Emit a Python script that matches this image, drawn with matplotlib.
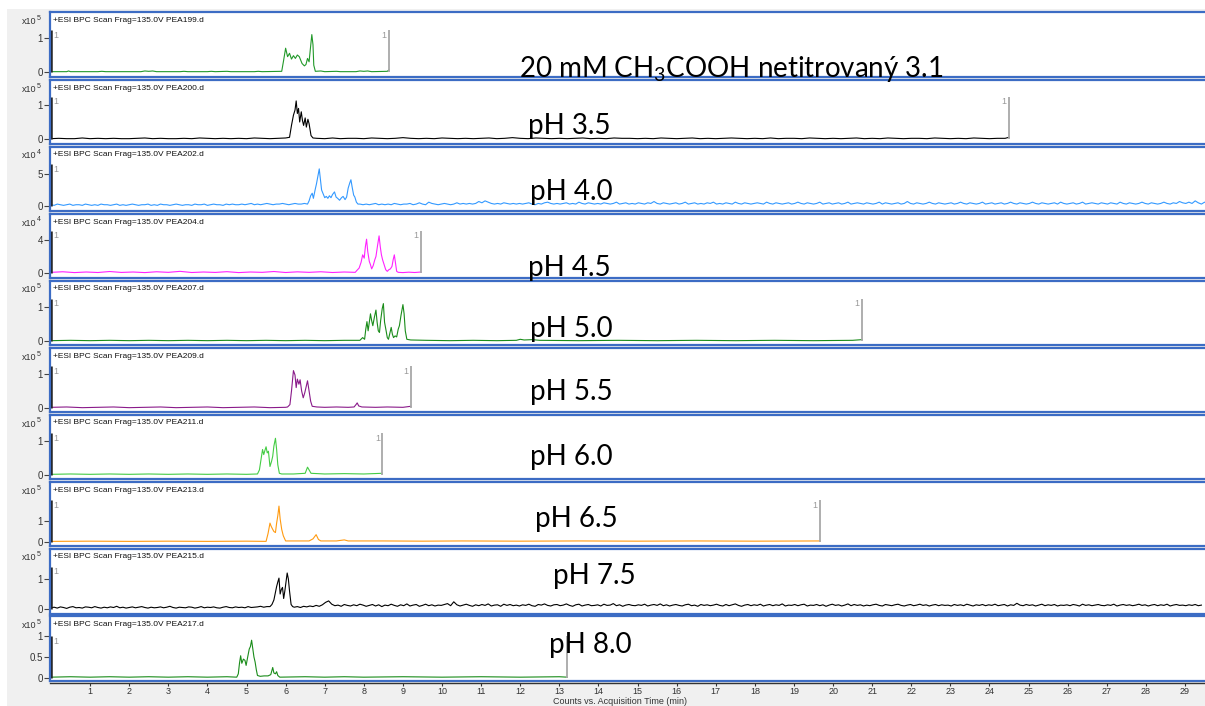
import numpy as np
import matplotlib
matplotlib.use("Agg")
import matplotlib.pyplot as plt
from matplotlib.patches import Rectangle

plt.rcParams['mathtext.fontset'] = 'custom'
plt.rcParams['mathtext.rm'] = 'Lato'
plt.rcParams['mathtext.it'] = 'Lato:italic'
plt.rcParams['mathtext.bf'] = 'Lato:bold'

# ------------------------------------------------------------------ data
file_names = ["PEA199.d", "PEA200.d", "PEA202.d", "PEA204.d", "PEA207.d",
              "PEA209.d", "PEA211.d", "PEA213.d", "PEA215.d", "PEA217.d"]
ph_labels = ["20 mM CH$_3$COOH netitrovaný 3.1", "pH 3.5", "pH 4.0", "pH 4.5",
             "pH 5.0", "pH 5.5", "pH 6.0", "pH 6.5", "pH 7.5", "pH 8.0"]
exponents = [5, 5, 4, 4, 5, 5, 5, 5, 5, 5]
y_ticks = [[0, 1], [0, 1], [0, 5], [0, 4], [0, 1], [0, 1], [0, 1], [0, 1], [0, 1], [0, 0.5, 1]]
y_ticklabels = [["0", "1"], ["0", "1"], ["0", "5"], ["0", "4"], ["0", "1"], ["0", "1"],
                ["0", "1"], ["0", "1"], ["0", "1"], ["0", "0.5", "1"]]
end_times = [8.64, 24.5, None, 9.46, 20.74, 9.2, 8.47, 19.67, None, 13.2]
end_label_shown = [True, True, False, True, True, True, True, True, False, False]
x_ticks = list(range(1, 30))
x_label = "Counts vs. Acquisition Time (min)"
noise_step = 0.08

# PEA199 (x10^5)
trace_199 = [(0.0, 0.01), (0.4, 0.01), (0.45, 0.03), (0.5, 0.01), (1.2, 0.01), (1.3, 0.02),
             (1.4, 0.01), (2.3, 0.01), (2.4, 0.03), (2.5, 0.02), (2.6, 0.03), (2.7, 0.01),
             (3.3, 0.01), (3.4, 0.02), (3.5, 0.01), (4.0, 0.01), (4.1, 0.02), (4.2, 0.01),
             (4.5, 0.02), (4.6, 0.01), (5.2, 0.01), (5.3, 0.02), (5.4, 0.01), (5.9, 0.02),
             (5.95, 0.35), (6.0, 0.70), (6.05, 0.45), (6.1, 0.55), (6.15, 0.38), (6.2, 0.48),
             (6.25, 0.40), (6.3, 0.50), (6.35, 0.45), (6.42, 0.25), (6.48, 0.18), (6.52, 0.22),
             (6.56, 0.40), (6.6, 0.30), (6.63, 0.65), (6.67, 1.10), (6.70, 0.80), (6.72, 0.20),
             (6.76, 0.02), (6.9, 0.03), (7.0, 0.01), (7.3, 0.02), (7.4, 0.01), (7.8, 0.01),
             (7.9, 0.03), (8.0, 0.02), (8.1, 0.03), (8.2, 0.01), (8.6, 0.02), (8.64, 0.06)]

# PEA200 (x10^5) : baseline noise in 0.01 units, step 0.2 min
pre_200 = [1, 2, 1, 1, 3, 1, 2, 1, 2, 1, 1, 2, 3, 1, 2, 1, 1, 2, 1, 3, 2, 1, 2, 1, 2, 1, 3, 2, 1, 2, 3]
peak_200 = [(6.1, 0.05), (6.15, 0.40), (6.2, 0.70), (6.24, 0.85), (6.27, 1.12), (6.30, 0.75),
            (6.33, 0.90), (6.36, 0.50), (6.40, 0.80), (6.43, 0.55), (6.46, 0.40), (6.50, 0.62),
            (6.53, 0.35), (6.57, 0.58), (6.60, 0.45), (6.65, 0.10), (6.70, 0.03)]
post_200 = [2, 1, 3, 1, 2, 2, 1, 3, 2, 1, 2, 4, 2, 1, 2, 1, 3, 2, 1, 2, 1, 2, 3, 1, 2, 4, 2, 1, 3, 2,
            1, 2, 1, 2, 3, 1, 2, 1, 3, 2, 2, 1, 2, 1, 3, 2, 1, 2, 3, 1, 2, 1, 2, 3, 2, 1, 2, 1, 3, 1,
            2, 2, 1, 3, 2, 1, 2, 1, 2, 3, 1, 2, 1, 3, 2, 1, 2, 2, 1, 3, 2, 1, 2, 1, 3, 2, 1, 2, 2]
tail_200 = [(24.5, 0.05)]

# PEA202 (x10^4) : noise in 0.1 units
pre_202 = [2, 1, 3, 2, 1, 2, 3, 1, 2, 2, 1, 3, 2, 1, 2, 1, 3, 2, 2, 1, 2, 3, 1, 2, 1, 2, 3, 2, 1, 2,
           2, 3, 1, 2, 1, 3, 2, 2, 1, 2, 3, 2, 1, 2, 2, 1, 3, 2, 2, 3, 1, 2, 3, 2, 2, 1, 3, 2, 3, 2,
           2, 3, 2, 3, 4, 2, 3, 2, 3, 4, 3, 2, 3, 3, 4, 3, 2, 3, 4, 3, 3, 4]
peak_202 = [(6.56, 0.3), (6.6, 0.8), (6.64, 1.6), (6.68, 2.0), (6.71, 1.2), (6.75, 2.4), (6.79, 3.5),
            (6.83, 4.8), (6.86, 5.8), (6.89, 4.2), (6.92, 2.5), (6.96, 1.9), (7.0, 1.3), (7.04, 1.5),
            (7.08, 1.2), (7.12, 1.6), (7.16, 1.3), (7.2, 1.8), (7.25, 2.2), (7.29, 1.4), (7.33, 1.2),
            (7.38, 0.9), (7.43, 1.3), (7.47, 1.5), (7.52, 1.0), (7.56, 1.4), (7.6, 2.8), (7.64, 3.6),
            (7.67, 4.1), (7.7, 3.0), (7.74, 1.7), (7.77, 1.4), (7.81, 0.6), (7.85, 0.3)]
post_202 = [3, 2, 3, 2, 3, 4, 2, 3, 2, 3, 2, 4, 3, 2, 3,
            3, 4, 2, 3, 5, 3, 2, 6, 4, 3, 2, 3,
            4, 3, 2, 3, 5, 3, 4, 3, 4, 3, 4, 7, 5,
            8, 6, 4, 3, 4, 3, 5, 4, 3, 4, 3, 4,
            3, 4, 5, 3, 2, 4, 3, 5, 6, 4, 3, 4, 3,
            4, 5, 3, 4, 3, 6, 4, 3, 5, 4, 3, 4,
            3, 5, 4, 3, 4, 6, 3, 4, 5, 3, 4, 3, 5,
            4, 3, 5, 4, 7, 4, 3, 5, 4, 3, 4, 5,
            3, 4, 6, 3, 4, 5, 3, 4, 3, 5, 4, 6, 3,
            4, 3, 5, 4, 3, 6, 4, 3, 5, 4, 3, 4,
            5, 4, 3, 6, 4, 3, 5, 4, 3, 4, 5, 3, 4,
            6, 4, 3, 5, 4, 3, 4, 6, 3, 4, 5, 3,
            4, 5, 3, 4, 6, 3, 4, 5, 4, 3, 5, 4, 3,
            4, 6, 3, 5, 4, 3, 4, 5, 3, 4, 7, 4,
            3, 5, 4, 3, 4, 6, 4, 3, 5, 4, 3, 4, 5,
            3, 4, 6, 4, 3, 5, 4, 3, 4, 6, 3, 4,
            5, 3, 4, 5, 3, 4, 6, 4, 3, 5, 4, 3, 4,
            6, 4, 3, 5, 4, 3, 4, 5, 3, 6, 4, 3,
            4, 5, 3, 4, 6, 3, 4, 5, 4, 3, 5, 4, 3,
            5, 4, 3, 6, 4, 3, 5, 4, 3, 4, 6, 4,
            3, 5, 4, 3, 4, 6, 4, 3, 5, 4, 7, 5, 4,
            6, 4, 8, 5, 3, 6, 4]

# PEA204 (x10^4)
trace_204 = [(0.0, 0.08), (0.3, 0.15), (0.6, 0.05), (0.9, 0.12), (1.2, 0.06), (1.5, 0.18), (1.8, 0.07),
             (2.1, 0.12), (2.4, 0.05), (2.7, 0.15), (3.0, 0.08), (3.3, 0.2), (3.6, 0.06), (3.9, 0.12),
             (4.2, 0.07), (4.5, 0.16), (4.8, 0.05), (5.1, 0.12), (5.4, 0.08), (5.7, 0.18), (6.0, 0.06),
             (6.3, 0.14), (6.6, 0.08), (6.9, 0.15), (7.2, 0.06), (7.5, 0.12), (7.78, 0.08),
             (7.82, 0.3), (7.88, 0.6), (7.93, 1.3), (7.97, 2.2), (8.01, 1.8), (8.04, 3.2), (8.07, 4.1),
             (8.1, 2.6), (8.14, 1.4), (8.17, 1.0), (8.2, 0.5), (8.24, 0.9), (8.28, 1.6), (8.31, 2.0),
             (8.35, 3.3), (8.39, 4.5), (8.42, 3.2), (8.45, 2.2), (8.48, 1.6), (8.52, 1.0), (8.56, 0.4),
             (8.6, 0.2), (8.64, 0.4), (8.68, 0.5), (8.72, 0.8), (8.75, 1.6), (8.78, 2.2), (8.81, 1.2),
             (8.84, 0.2), (8.88, 0.08), (9.0, 0.05), (9.15, 0.1), (9.3, 0.06), (9.46, 0.12)]

# PEA207 (x10^5)
trace_207 = [(0.0, 0.01), (0.5, 0.02), (1.0, 0.01), (1.5, 0.02), (2.0, 0.01), (2.5, 0.02), (3.0, 0.01),
             (3.5, 0.02), (4.0, 0.01), (4.5, 0.02), (5.0, 0.01), (5.5, 0.02), (6.0, 0.01), (6.5, 0.02),
             (7.0, 0.01), (7.5, 0.02), (7.9, 0.02), (7.97, 0.10), (8.02, 0.05), (8.05, 0.35),
             (8.08, 0.57), (8.11, 0.30), (8.14, 0.55), (8.17, 0.80), (8.2, 0.60), (8.23, 0.45),
             (8.27, 0.70), (8.31, 0.91), (8.34, 0.55), (8.37, 0.30), (8.4, 0.25), (8.43, 0.60),
             (8.47, 0.95), (8.5, 1.10), (8.53, 0.55), (8.57, 0.30), (8.6, 0.10), (8.63, 0.05),
             (8.67, 0.25), (8.7, 0.40), (8.73, 0.20), (8.76, 0.10), (8.8, 0.15), (8.84, 0.12),
             (8.88, 0.35), (8.91, 0.45), (8.95, 0.75), (9.0, 1.07), (9.03, 0.80), (9.06, 0.30),
             (9.1, 0.05), (9.2, 0.03), (9.6, 0.02), (10.2, 0.01), (10.8, 0.02), (11.4, 0.01),
             (11.9, 0.02), (12.0, 0.05), (12.1, 0.03), (12.3, 0.04), (12.5, 0.02), (13.5, 0.01),
             (14.5, 0.02), (15.5, 0.01), (16.5, 0.02), (17.5, 0.01), (18.5, 0.02), (19.5, 0.01),
             (20.5, 0.02), (20.74, 0.04)]

# PEA209 (x10^5)
trace_209 = [(0.0, 0.02), (0.4, 0.03), (0.8, 0.01), (1.2, 0.02), (1.6, 0.03), (2.0, 0.01), (2.4, 0.02),
             (2.8, 0.03), (3.2, 0.01), (3.6, 0.02), (4.0, 0.03), (4.4, 0.01), (4.8, 0.02), (5.2, 0.03),
             (5.6, 0.01), (6.0, 0.02), (6.05, 0.03), (6.11, 0.10), (6.15, 0.50), (6.2, 1.10),
             (6.24, 0.97), (6.27, 0.60), (6.3, 0.85), (6.34, 0.70), (6.37, 0.83), (6.41, 0.50),
             (6.45, 0.30), (6.49, 0.45), (6.53, 0.65), (6.56, 0.80), (6.6, 0.50), (6.64, 0.20),
             (6.68, 0.05), (6.8, 0.03), (7.0, 0.02), (7.3, 0.03), (7.6, 0.02), (7.75, 0.03),
             (7.8, 0.10), (7.83, 0.15), (7.87, 0.06), (7.95, 0.03), (8.3, 0.02), (8.6, 0.03),
             (9.0, 0.02), (9.2, 0.05)]

# PEA211 (x10^5)
trace_211 = [(0.0, 0.02), (0.5, 0.03), (1.0, 0.02), (1.5, 0.03), (2.0, 0.02), (2.5, 0.03), (3.0, 0.02),
             (3.5, 0.03), (4.0, 0.02), (4.5, 0.03), (5.0, 0.02), (5.28, 0.03), (5.33, 0.15),
             (5.37, 0.45), (5.41, 0.75), (5.44, 0.60), (5.47, 0.72), (5.5, 0.83), (5.53, 0.65),
             (5.56, 0.70), (5.6, 0.25), (5.64, 0.40), (5.67, 0.55), (5.7, 0.85), (5.74, 1.08),
             (5.77, 0.75), (5.8, 0.30), (5.84, 0.05), (5.9, 0.03), (6.2, 0.03), (6.5, 0.05),
             (6.56, 0.23), (6.6, 0.15), (6.65, 0.05), (7.0, 0.03), (7.5, 0.04), (8.0, 0.03),
             (8.47, 0.05)]

# PEA213 (x10^5)
trace_213 = [(0.0, 0.03), (1.0, 0.04), (2.0, 0.03), (3.0, 0.04), (4.0, 0.03), (5.0, 0.04), (5.5, 0.03),
             (5.55, 0.40), (5.6, 0.90), (5.63, 0.75), (5.67, 0.60), (5.7, 0.50), (5.74, 0.45),
             (5.77, 0.90), (5.8, 1.25), (5.83, 1.71), (5.86, 1.10), (5.9, 0.60), (5.94, 0.30),
             (6.0, 0.05), (6.3, 0.05), (6.6, 0.05), (6.7, 0.15), (6.78, 0.35), (6.84, 0.12),
             (6.9, 0.05), (7.3, 0.05), (7.5, 0.10), (7.6, 0.05), (8.5, 0.05), (9.5, 0.04),
             (10.5, 0.05), (12.0, 0.04), (13.5, 0.05), (15.0, 0.04), (16.5, 0.05), (18.0, 0.04),
             (19.67, 0.05)]

# PEA215 (x10^5) : noise in 0.01 units
pre_215 = [4, 6, 3, 7, 5, 2, 6, 8, 4, 5, 3, 7, 6, 4, 8, 5, 3, 6, 4, 7, 5, 9, 4, 6, 3, 5, 7, 4, 6, 8,
           5, 3, 6, 4, 5, 7, 4, 6, 9, 5, 3, 6, 5, 4, 7, 6, 3, 5, 8, 4, 6, 5, 7, 4, 3, 6, 8, 5, 4, 7,
           5, 6, 4, 8, 5, 6, 7, 9, 6, 8]
peak_215 = [(5.6, 0.08), (5.65, 0.15), (5.7, 0.30), (5.74, 0.55), (5.77, 0.75), (5.8, 0.90),
            (5.83, 1.03), (5.86, 0.50), (5.89, 0.65), (5.92, 0.72), (5.95, 0.35), (5.98, 0.60),
            (6.01, 0.90), (6.04, 1.20), (6.07, 1.00), (6.1, 0.60), (6.14, 0.15), (6.18, 0.08)]
post_215 = [6, 8, 5, 9, 7, 10, 8, 12, 9, 14,
            22, 27, 16, 11, 13, 9, 15, 12, 10, 14, 11, 16,
            13, 9, 12, 15, 10, 14, 8, 13, 11, 16, 12, 9,
            14, 11, 17, 10, 13, 15, 9, 12, 16, 11, 14, 10, 13,
            12, 15, 18, 11, 24, 14, 10, 13, 16, 12, 9, 14,
            11, 15, 12, 17, 10, 13, 14, 9, 16, 12, 15, 11, 13,
            10, 14, 12, 16, 11, 9, 15, 13, 17, 12, 10, 14,
            15, 11, 13, 17, 12, 9, 14, 16, 10, 13, 15, 11, 12,
            14, 10, 16, 12, 13, 18, 11, 14, 9, 13, 15, 12,
            11, 14, 12, 16, 10, 13, 15, 12, 17, 11, 14, 10, 13,
            15, 12, 10, 14, 16, 11, 13, 9, 15, 12, 14, 11,
            13, 16, 12, 10, 15, 11, 14, 17, 12, 9, 13, 15, 11,
            14, 12, 16, 10, 13, 15, 11, 14, 12, 17, 10, 13,
            12, 15, 11, 14, 16, 10, 13, 12, 15, 11, 14, 9, 13,
            16, 12, 14, 10, 13, 17, 11, 15, 12, 14, 10, 13,
            11, 14, 16, 12, 10, 15, 13, 11, 14, 16, 12, 10, 13,
            15, 11, 13, 16, 12, 14, 10, 13, 15, 11, 14, 12,
            13, 10, 15, 12, 14, 11, 16, 13, 10, 14, 12, 15, 11,
            14, 12, 16, 11, 13, 15, 10, 14, 12, 19, 13, 11,
            15, 12, 14, 10, 13, 16, 11, 14, 12, 15, 10, 13, 12,
            14, 11, 15, 13, 10, 16, 12, 14, 11, 13, 15, 12,
            11, 14, 12, 16, 10, 13, 15, 12, 14, 11, 13, 16, 12,
            14, 10, 13, 15, 11, 14, 12, 16, 10, 13, 15, 12,
            13, 11, 14, 12, 15, 11, 13]

# PEA217 (x10^5)
trace_217 = [(0.0, 0.02), (0.5, 0.03), (1.0, 0.02), (1.5, 0.03), (2.0, 0.02), (2.5, 0.03), (3.0, 0.02),
             (3.5, 0.03), (4.0, 0.02), (4.5, 0.03), (4.75, 0.02), (4.79, 0.10), (4.82, 0.35),
             (4.85, 0.53), (4.88, 0.35), (4.92, 0.45), (4.96, 0.42), (4.99, 0.30), (5.03, 0.50),
             (5.07, 0.69), (5.1, 0.75), (5.13, 0.90), (5.16, 0.70), (5.19, 0.50), (5.22, 0.38),
             (5.25, 0.20), (5.28, 0.06), (5.35, 0.04), (5.45, 0.05), (5.55, 0.05), (5.62, 0.08),
             (5.67, 0.25), (5.7, 0.12), (5.74, 0.10), (5.77, 0.15), (5.8, 0.06), (5.85, 0.02),
             (6.5, 0.03), (7.0, 0.02), (7.5, 0.03), (8.0, 0.02), (9.0, 0.03), (10.0, 0.02),
             (11.0, 0.03), (12.0, 0.02), (13.0, 0.03), (13.2, 0.02)]

colors = ["#22992a", "#000000", "#3399ff", "#ff22ff", "#1a8c1a",
          "#8a1a8a", "#44cc44", "#ff9a10", "#000000", "#1a8c1a"]


def noise_pairs(start, step, values, unit):
    return [(start + i * step, v * unit) for i, v in enumerate(values)]


series = [
    trace_199,
    noise_pairs(0.0, 0.2, pre_200, 0.01) + peak_200 + noise_pairs(6.8, 0.2, post_200, 0.01) + tail_200,
    noise_pairs(0.0, noise_step, pre_202, 0.1) + peak_202 + noise_pairs(7.9, noise_step, post_202, 0.1),
    trace_204,
    trace_207,
    trace_209,
    trace_211,
    trace_213,
    noise_pairs(0.0, noise_step, pre_215, 0.01) + peak_215 + noise_pairs(6.22, noise_step, post_215, 0.01),
    trace_217,
]

# ------------------------------------------------------------------ layout (pixels)
W, H = 1205, 706
tops = [12, 80, 147, 214, 281, 348, 415, 482, 549, 616]
bots = [77, 144, 211, 278, 345, 412, 479, 546, 613.5, 681]
zeros = [72, 139, 206, 273, 341, 408, 475, 542, 609, 678]
pxu = [34, 34, 6.4, 8.25, 34, 34, 34, 21, 30, 42]
label_pos = [(519, 77), (528, 134), (530, 200), (528, 276), (530, 337),
             (530, 400), (530, 465), (535, 527), (553, 584), (549, 653)]
AX_L = 50
AX_R = 1205
T0_PX = 51
PX_PER_MIN = (1185 - 51) / 29.0
XLIM = ((AX_L - T0_PX) / PX_PER_MIN, (AX_R - T0_PX) / PX_PER_MIN)


def fx(px):
    return px / W


def fy(py):
    return 1 - py / H


fig = plt.figure(figsize=(W / 100, H / 100), dpi=100)
fig.patch.set_facecolor("#f0f0f0")
fig.add_artist(Rectangle((0, fy(9)), 1, 1 - fy(9), transform=fig.transFigure,
                         facecolor="white", edgecolor="none", zorder=-5))
fig.add_artist(Rectangle((0, 0), fx(7), 1, transform=fig.transFigure,
                         facecolor="white", edgecolor="none", zorder=-5))

small = dict(family="Liberation Sans")
blue = "#3c6cc4"

for i in range(10):
    top, bot, z, s = tops[i], bots[i], zeros[i], pxu[i]
    ax = fig.add_axes([fx(AX_L), fy(bot), fx(AX_R) - fx(AX_L), (bot - top) / H])
    ax.set_facecolor("white")
    t, y = zip(*series[i])
    t = np.array(t)
    y = np.array(y)
    if end_times[i] is not None:
        keep = t <= end_times[i] + 1e-9
        t, y = t[keep], y[keep]
    ax.plot(t, y, color=colors[i], lw=0.8, solid_joinstyle="round")
    ax.set_xlim(*XLIM)
    ax.set_ylim((z - bot) / s, (z - top) / s)
    # segment markers
    mh = 42.0 / s
    ax.vlines(0, 0, mh, color="#202020", lw=1.8)
    ax.text(0.07, 37.0 / s, "1", color="#999999", fontsize=6.5, va="center", ha="left", **small)
    if end_times[i] is not None:
        ax.vlines(end_times[i], 0, mh, color="#a8a8a8", lw=1.3)
        if end_label_shown[i]:
            ax.text(end_times[i] - 0.06, 37.0 / s, "1", color="#999999", fontsize=6.5,
                    va="center", ha="right", **small)
    ax.set_xticks([])
    ax.set_yticks(y_ticks[i])
    ax.set_yticklabels(y_ticklabels[i], fontsize=7, color="#333333", **small)
    ax.tick_params(axis="y", direction="out", length=4, width=0.8, color="#444444", pad=1)
    for sp in ax.spines.values():
        sp.set_color(blue)
        sp.set_linewidth(1.6)
    ax.spines["right"].set_visible(False)
    # header texts
    fig.text(fx(53), fy(top + 8), "+ESI BPC Scan Frag=135.0V " + file_names[i],
             fontsize=6, va="center", ha="left", color="#111111", **small)
    fig.text(fx(22), fy(top + 9), "x10", fontsize=6.5, va="center", ha="left", color="#333333", **small)
    fig.text(fx(37), fy(top + 6), str(exponents[i]), fontsize=5, va="center", ha="left",
             color="#333333", **small)

# x axis
axx = fig.add_axes([fx(AX_L), fy(683), fx(AX_R) - fx(AX_L), 0.0001])
axx.set_facecolor("none")
axx.set_xlim(*XLIM)
axx.set_yticks([])
for k in ["top", "left", "right"]:
    axx.spines[k].set_visible(False)
axx.spines["bottom"].set_color("#333333")
axx.spines["bottom"].set_linewidth(1.0)
axx.set_xticks(x_ticks)
axx.set_xticklabels([str(v) for v in x_ticks], fontsize=6.5, color="#333333", **small)
axx.tick_params(axis="x", direction="out", length=2.5, width=0.8, pad=0.5, color="#333333")
fig.text(fx(620), fy(701), x_label, fontsize=6.5, ha="center", va="center", color="#333333", **small)

# big annotation labels
for i in range(10):
    lx, ly = label_pos[i]
    fig.text(fx(lx), fy(ly), ph_labels[i], fontsize=20, family="Lato",
             ha="left", va="baseline", color="black", zorder=10)

fig.savefig("out.png", dpi=100, facecolor=fig.get_facecolor())
